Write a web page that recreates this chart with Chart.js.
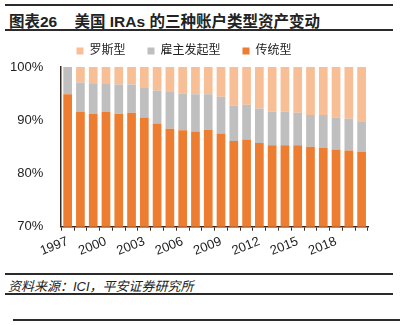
<!DOCTYPE html>
<html>
<head>
<meta charset="utf-8">
<script src="https://cdn.jsdelivr.net/npm/chart.js@4/dist/chart.umd.min.js"></script>
<style>
  html, body { margin: 0; padding: 0; background: #fff; }
  body { width: 400px; height: 325px; position: relative; overflow: hidden;
         font-family: "Liberation Sans", "Noto Sans CJK SC", sans-serif; }
  .line { position: absolute; background: #2b2b2b; }
  #title { position: absolute; left: 9px; top: 9px; font-size: 15.5px; font-weight: bold; color: #222;
           font-family: "Liberation Sans", "Noto Sans CJK SC", sans-serif; white-space: pre; }
  #footer { position: absolute; left: 8px; top: 276px; font-size: 13px; font-style: italic; color: #222;
            font-family: "Liberation Sans", "Noto Sans CJK SC", sans-serif; white-space: pre; }
  #wrap { position: absolute; left: 0; top: 23px; width: 400px; height: 239px; }
</style>
</head>
<body>
<div class="line" style="left:5px; top:4px; width:388px; height:2px;"></div>
<div id="title">图表26    美国 IRAs 的三种账户类型资产变动</div>
<div class="line" style="left:5px; top:29px; width:388px; height:2px;"></div>
<div id="wrap"><canvas id="c"></canvas></div>
<div class="line" style="left:5px; top:273px; width:388px; height:2px;"></div>
<div id="footer">资料来源：ICI，平安证券研究所</div>
<div class="line" style="left:5px; top:293px; width:388px; height:2px;"></div>
<div class="line" style="left:13px; top:319px; width:387px; height:2px;"></div>
<script>
const years = ["1997","1998","1999","2000","2001","2002","2003","2004","2005","2006","2007","2008",
               "2009","2010","2011","2012","2013","2014","2015","2016","2017","2018","2019","2020"];
const traditional = [94.9, 91.6, 91.2, 91.6, 91.2, 91.4, 90.5, 89.4, 88.4, 88.1, 87.9, 88.2,
                     87.5, 86.1, 86.4, 85.7, 85.3, 85.3, 85.3, 85.0, 84.8, 84.5, 84.3, 84.1];
const employer = [5.1, 5.5, 5.6, 5.2, 5.5, 5.3, 5.7, 6.2, 6.9, 6.9, 7.0, 6.7,
                  6.9, 6.6, 6.5, 6.5, 6.3, 6.3, 6.1, 6.0, 6.2, 6.0, 6.0, 5.7];
const roth = [0, 2.9, 3.2, 3.2, 3.3, 3.3, 3.8, 4.4, 4.7, 5.0, 5.1, 5.1,
              5.6, 7.3, 7.1, 7.8, 8.4, 8.4, 8.6, 9.0, 9.0, 9.5, 9.7, 10.2];
const seriesNames = ["传统型", "雇主发起型", "罗斯型"];
const yTicks = [70, 80, 90, 100];

const font = { family: "'Liberation Sans', 'Noto Sans CJK SC', sans-serif", size: 13 };
new Chart(document.getElementById('c'), {
  type: 'bar',
  data: {
    labels: years,
    datasets: [
      { label: seriesNames[0], data: traditional, backgroundColor: '#ED7D31' },
      { label: seriesNames[1], data: employer, backgroundColor: '#BFBFBF' },
      { label: seriesNames[2], data: roth, backgroundColor: '#F8BE95' }
    ]
  },
  options: {
    responsive: true,
    maintainAspectRatio: false,
    animation: false,
    datasets: { bar: { categoryPercentage: 1, barPercentage: 0.68 } },
    layout: { padding: { left: 0, right: 32, top: 0, bottom: 0 } },
    plugins: {
      legend: {
        reverse: true,
        labels: { boxWidth: 7, boxHeight: 7, padding: 22, color: '#222',
                  font: { family: font.family, size: 12 } }
      },
      tooltip: { enabled: false }
    },
    scales: {
      x: {
        stacked: true,
        grid: { display: true, drawOnChartArea: false, drawTicks: true, tickLength: 4,
                color: '#3a2a20', offset: true },
        border: { display: true, color: '#3a2a20', width: 1.5 },
        ticks: {
          autoSkip: false, maxRotation: 22, minRotation: 22, color: '#222', font: font, padding: 3,
          callback: function(v, i) { return i % 3 === 0 ? years[i] : ''; }
        }
      },
      y: {
        stacked: true, min: 70, max: 100,
        afterBuildTicks: function(axis) { axis.ticks = yTicks.map(v => ({ value: v })); },
        grid: { display: false },
        border: { display: true, color: '#3a2a20', width: 1.5 },
        ticks: { color: '#222', font: font, padding: 10,
                 callback: function(v) { return v + '%'; } }
      }
    }
  }
});
</script>
</body>
</html>
